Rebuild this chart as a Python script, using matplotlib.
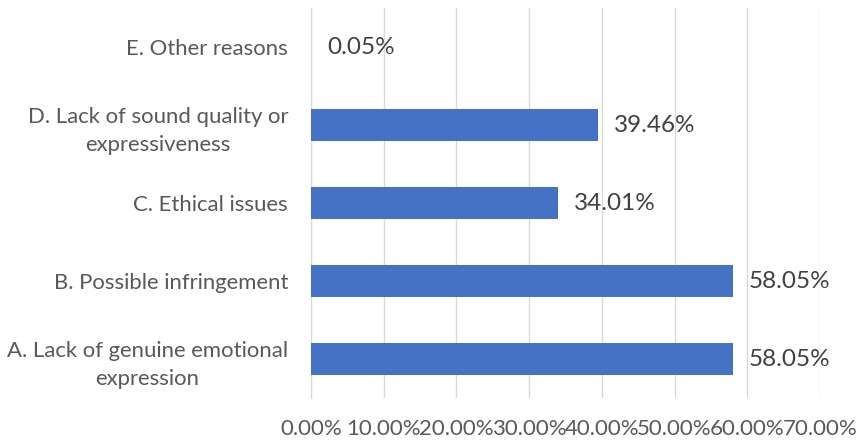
import matplotlib.pyplot as plt
from matplotlib.ticker import FuncFormatter

plt.rcParams['font.family'] = ['Lato', 'DejaVu Sans']

categories = [
    "A. Lack of genuine emotional\nexpression",
    "B. Possible infringement",
    "C. Ethical issues",
    "D. Lack of sound quality or\nexpressiveness",
    "E. Other reasons",
]
shares = [58.05, 58.05, 34.01, 39.46, 0.05]
x_ticks = [0, 10, 20, 30, 40, 50, 60, 70]

fig = plt.figure(figsize=(8.59, 4.41), dpi=100)
ax = fig.add_axes([311 / 859, 1 - 398 / 441, (820 - 311) / 859, 390 / 441])

y = range(len(categories))
ax.barh(y, shares, height=0.41, color="#4472C4", zorder=3)

# value labels just right of each bar
for yi, v in zip(y, shares):
    ax.text(v + 2.2, yi, f"{v:.2f}%", va="center", ha="left",
            fontsize=17.5, color="#404040")

ax.set_xlim(0, 70)
ax.set_ylim(-0.5, len(categories) - 0.5)
ax.set_xticks(x_ticks)
ax.xaxis.set_major_formatter(FuncFormatter(lambda v, _: f"{v:.2f}%"))
ax.set_yticks(list(y))
ax.set_yticklabels(categories, multialignment="center", linespacing=1.5,
                   fontsize=15.9)

ax.grid(axis="x", color="#D9D9D9", lw=1, zorder=0)
for s in ["top", "right", "bottom"]:
    ax.spines[s].set_visible(False)
ax.spines["left"].set_color("#D9D9D9")
ax.tick_params(axis="both", length=0, colors="#595959")
ax.tick_params(axis="x", pad=15, labelsize=16)
ax.tick_params(axis="y", pad=16.5)

fig.savefig("out.png", dpi=100)
